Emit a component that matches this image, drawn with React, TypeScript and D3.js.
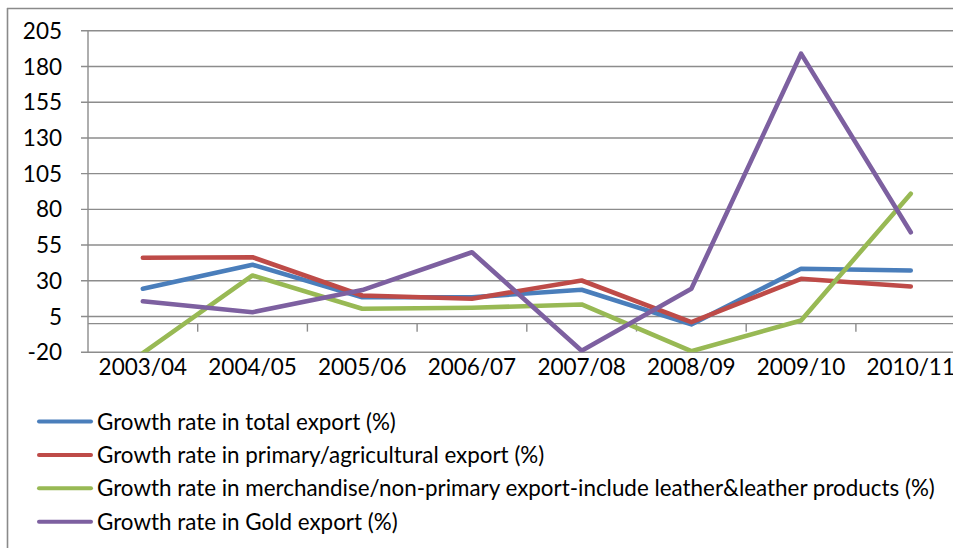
import React from "react";
import * as d3 from "d3";

const categories = ["2003/04", "2004/05", "2005/06", "2006/07", "2007/08", "2008/09", "2009/10", "2010/11"];
const totalExport = [24.4, 41.2, 18.5, 18.5, 23.7, -0.5, 38.4, 37.2];
const primaryExport = [46.1, 46.5, 19.7, 17.4, 30.2, 1.0, 31.4, 26.0];
const merchandiseExport = [-20.6, 33.7, 10.4, 11.1, 13.4, -19.3, 2.2, 91.0];
const goldExport = [15.7, 8.0, 23.5, 50.0, -19.0, 24.4, 189.0, 64.0];
const yTicks = [-20, 5, 30, 55, 80, 105, 130, 155, 180, 205];

const seriesNames = [
  "Growth rate in total export (%)",
  "Growth rate in primary/agricultural export (%)",
  "Growth rate in merchandise/non-primary export-include leather&leather products (%)",
  "Growth rate in Gold export (%)",
];
const seriesData = [totalExport, primaryExport, merchandiseExport, goldExport];
const colors = ["#4A7EBB", "#BE4B48", "#98B954", "#7D60A0"];

export default function App() {
  const W = 953;
  const H = 548;
  const plotLeft = 88;
  const band = 109.7;
  const x = d3
    .scaleBand<string>()
    .domain(categories)
    .range([plotLeft, plotLeft + band * categories.length])
    .padding(0);
  const y = d3.scaleLinear().domain([-20, 205]).range([352.2, 30.8]);
  const cx = (c: string) => (x(c) as number) + x.bandwidth() / 2;
  const line = d3
    .line<number>()
    .x((_, i) => cx(categories[i]))
    .y((d) => y(d));
  const font = "Lato, 'Open Sans', sans-serif";
  const gridColor = "#8c8c8c";
  const plotRight = plotLeft + band * categories.length;

  return (
    <svg
      width={W}
      height={H}
      style={{ position: "absolute", left: 0, top: 0, background: "#fff" }}
      fontFamily={font}
    >
      <rect x={0} y={0} width={W} height={H} fill="#fff" />
      {/* outer border */}
      <line x1={7.5} y1={8} x2={7.5} y2={H} stroke="#8a8a8a" strokeWidth={1.6} />
      <line x1={7} y1={8.5} x2={W} y2={8.5} stroke="#8a8a8a" strokeWidth={1.6} />

      {/* gridlines */}
      {yTicks.map((t) => (
        <line key={t} x1={81} x2={plotRight} y1={y(t)} y2={y(t)} stroke={gridColor} strokeWidth={1.4} />
      ))}
      {/* y axis */}
      <line x1={plotLeft} x2={plotLeft} y1={y(205)} y2={y(-20)} stroke={gridColor} strokeWidth={1.4} />
      {/* x axis at 0 */}
      <line x1={plotLeft} x2={plotRight} y1={y(0)} y2={y(0)} stroke={gridColor} strokeWidth={1.4} />
      {categories.slice(1).map((c) => (
        <line key={c} x1={x(c) as number} x2={x(c) as number} y1={y(0)} y2={y(0) + 8} stroke={gridColor} strokeWidth={1.4} />
      ))}

      {/* y labels */}
      {yTicks.map((t) => (
        <text key={t} x={62} y={y(t)} dy="0.36em" textAnchor="end" fontSize={22.5} fill="#000">
          {t}
        </text>
      ))}
      {/* x labels */}
      {categories.map((c) => (
        <text key={c} x={cx(c)} y={375} textAnchor="middle" fontSize={22.5} fill="#000">
          {c}
        </text>
      ))}

      {/* series */}
      <defs>
        <clipPath id="plotClip">
          <rect x={plotLeft} y={y(205) - 3} width={plotRight - plotLeft} height={y(-20) - y(205) + 3} />
        </clipPath>
      </defs>
      <g clipPath="url(#plotClip)">
        {seriesData.map((s, i) => (
          <path
            key={i}
            d={line(s) as string}
            fill="none"
            stroke={colors[i]}
            strokeWidth={4.6}
            strokeLinejoin="round"
            strokeLinecap="round"
          />
        ))}
      </g>

      {/* legend */}
      {seriesNames.map((n, i) => (
        <g key={n} transform={`translate(0, ${421.5 + i * 33.4})`}>
          <line x1={39} x2={91} y1={0} y2={0} stroke={colors[i]} strokeWidth={4} strokeLinecap="round" />
          <text x={97} y={0} dy="0.36em" fontSize={22.4} fill="#000">
            {n}
          </text>
        </g>
      ))}
    </svg>
  );
}
